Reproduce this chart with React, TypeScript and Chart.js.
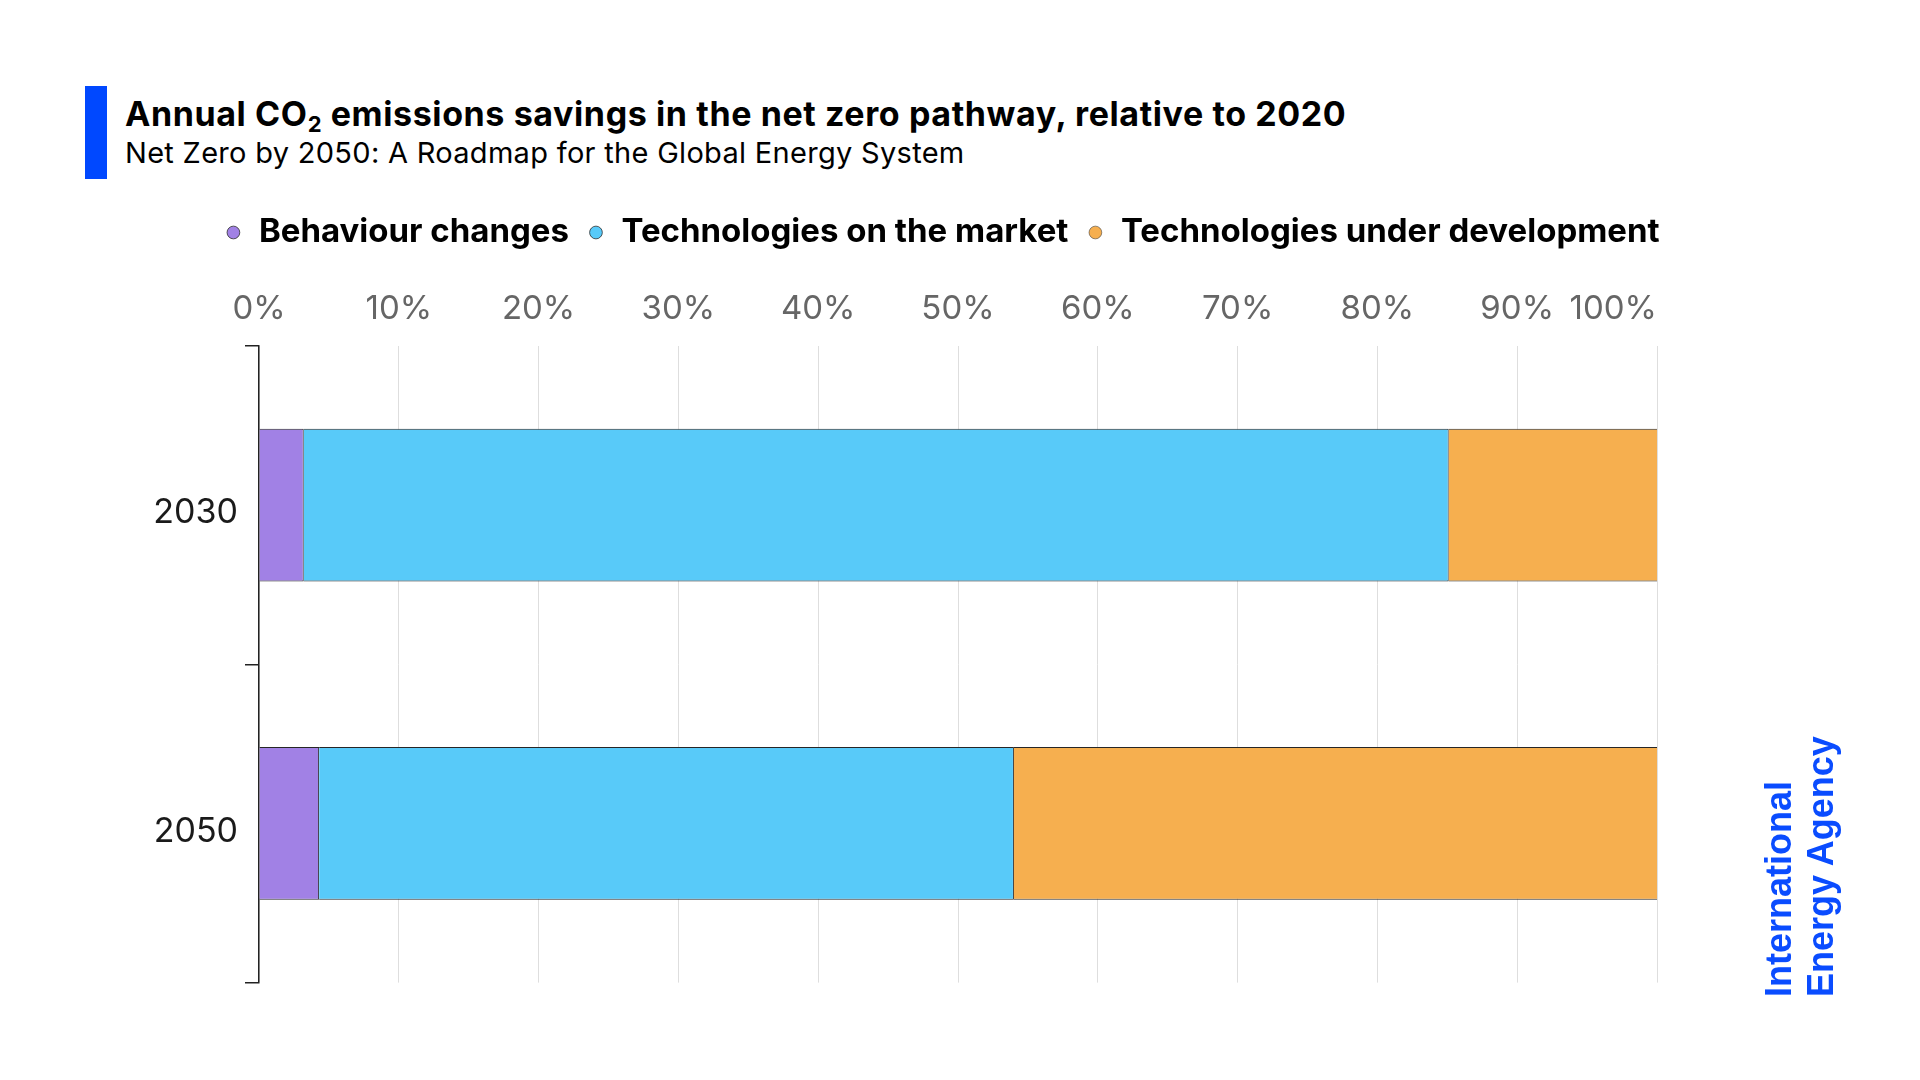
import { useEffect, useRef } from 'react';
import { Chart, registerables } from 'chart.js';

Chart.register(...registerables);

// Data (shares of annual CO2 savings, %)
const years = ['2030', '2050'];
const behaviourChanges = [3.2, 4.3];
const techOnMarket = [81.9, 49.7];
const techUnderDevelopment = [14.9, 46.0];
const seriesNames = ['Behaviour changes', 'Technologies on the market', 'Technologies under development'];
const seriesColors = ['#a181e5', '#58caf9', '#f6af4f'];

const FONT = 'Inter, "Noto Sans", sans-serif';

// right-align the last x tick label ("100%") so it ends on the grid line
const lastTickAlign = {
  id: 'lastTickAlign',
  beforeDraw(chart: any) {
    const items = chart.scales.x.getLabelItems();
    const last = items[items.length - 1];
    if (last) last.options.textAlign = 'right';
  },
};

export default function App() {
  const canvasRef = useRef<HTMLCanvasElement>(null);

  useEffect(() => {
    if (!canvasRef.current) return;
    const edge = { top: 1, bottom: 1, right: 1, left: 0 };
    const chart = new Chart(canvasRef.current, {
      type: 'bar',
      data: {
        labels: years,
        datasets: [
          { label: seriesNames[0], data: behaviourChanges, backgroundColor: seriesColors[0], borderWidth: edge },
          { label: seriesNames[1], data: techOnMarket, backgroundColor: seriesColors[1], borderWidth: edge },
          {
            label: seriesNames[2],
            data: techUnderDevelopment,
            backgroundColor: seriesColors[2],
            borderWidth: { top: 1, bottom: 1, right: 0, left: 0 },
          },
        ].map((d) => ({
          ...d,
          borderColor: '#262626',
          borderSkipped: false,
          barPercentage: 0.48,
          categoryPercentage: 1,
        })) as any,
      },
      options: {
        indexAxis: 'y',
        animation: false,
        responsive: true,
        maintainAspectRatio: false,
        layout: { padding: { top: 8, bottom: 25, left: 0, right: 0 } },
        plugins: {
          legend: {
            position: 'top',
            align: 'center',
            labels: {
              usePointStyle: true,
              pointStyle: 'circle',
              boxWidth: 18,
              boxHeight: 9,
              padding: 18,
              color: '#000',
              font: { family: FONT, size: 33, weight: 'bold' },
            },
          },
          tooltip: { enabled: false },
        },
        scales: {
          x: {
            type: 'linear',
            position: 'top',
            stacked: true,
            min: 0,
            max: 100,
            ticks: {
              stepSize: 10,
              color: '#666',
              padding: 17,
              font: { family: FONT, size: 33 },
              callback: (v: any) => `${v}%`,
            },
            grid: { color: '#dedede', lineWidth: 1, drawTicks: false },
            border: { display: false },
            afterFit: (s: any) => {
              s.height = 87;
            },
          },
          y: {
            stacked: true,
            ticks: {
              color: '#1a1a1a',
              padding: 7,
              labelOffset: 8,
              font: { family: FONT, size: 34 },
            },
            grid: {
              offset: true,
              drawOnChartArea: false,
              drawTicks: true,
              tickLength: 14,
              color: '#222',
              lineWidth: 1.5,
            },
            border: { display: true, color: '#222', width: 1.5 },
            afterFit: (s: any) => {
              s.width = 259;
            },
          },
          // empty right-hand axis that reserves room for the agency mark
          yRight: {
            type: 'category',
            position: 'right',
            display: true,
            grid: { display: false },
            ticks: { display: false },
            border: { display: false },
            afterFit: (s: any) => {
              s.width = 227;
            },
          },
        },
      },
      plugins: [lastTickAlign],
    });
    return () => chart.destroy();
  }, []);

  return (
    <div
      style={{
        position: 'absolute',
        left: 0,
        top: 0,
        width: 1920,
        height: 1080,
        background: '#fff',
        fontFamily: FONT,
        overflow: 'hidden',
      }}
    >
      <div style={{ position: 'absolute', left: 85, top: 86, width: 22, height: 93, background: '#0048ff' }} />
      <div
        style={{
          position: 'absolute',
          left: 125,
          top: 97,
          fontSize: 34,
          lineHeight: '34px',
          letterSpacing: '0.6px',
          fontWeight: 700,
          color: '#000',
          whiteSpace: 'nowrap',
        }}
      >
        Annual CO<sub style={{ fontSize: 22, verticalAlign: '-6px', lineHeight: 0 }}>2</sub> emissions savings in the
        net zero pathway, relative to 2020
      </div>
      <div
        style={{
          position: 'absolute',
          left: 125,
          top: 138,
          fontSize: 29,
          lineHeight: '29px',
          letterSpacing: '0.3px',
          color: '#000',
          whiteSpace: 'nowrap',
        }}
      >
        Net Zero by 2050: A Roadmap for the Global Energy System
      </div>
      <div style={{ position: 'absolute', left: 0, top: 190, width: 1884, height: 820 }}>
        <canvas ref={canvasRef} />
      </div>
      <div
        style={{
          position: 'absolute',
          left: 1758,
          top: 997,
          transform: 'rotate(-90deg)',
          transformOrigin: '0 0',
          fontFamily: '"Liberation Sans", Arial, sans-serif',
          fontWeight: 700,
          fontSize: 36,
          lineHeight: '42px',
          color: '#0a4cff',
          whiteSpace: 'nowrap',
        }}
      >
        International
        <br />
        Energy Agency
      </div>
    </div>
  );
}
